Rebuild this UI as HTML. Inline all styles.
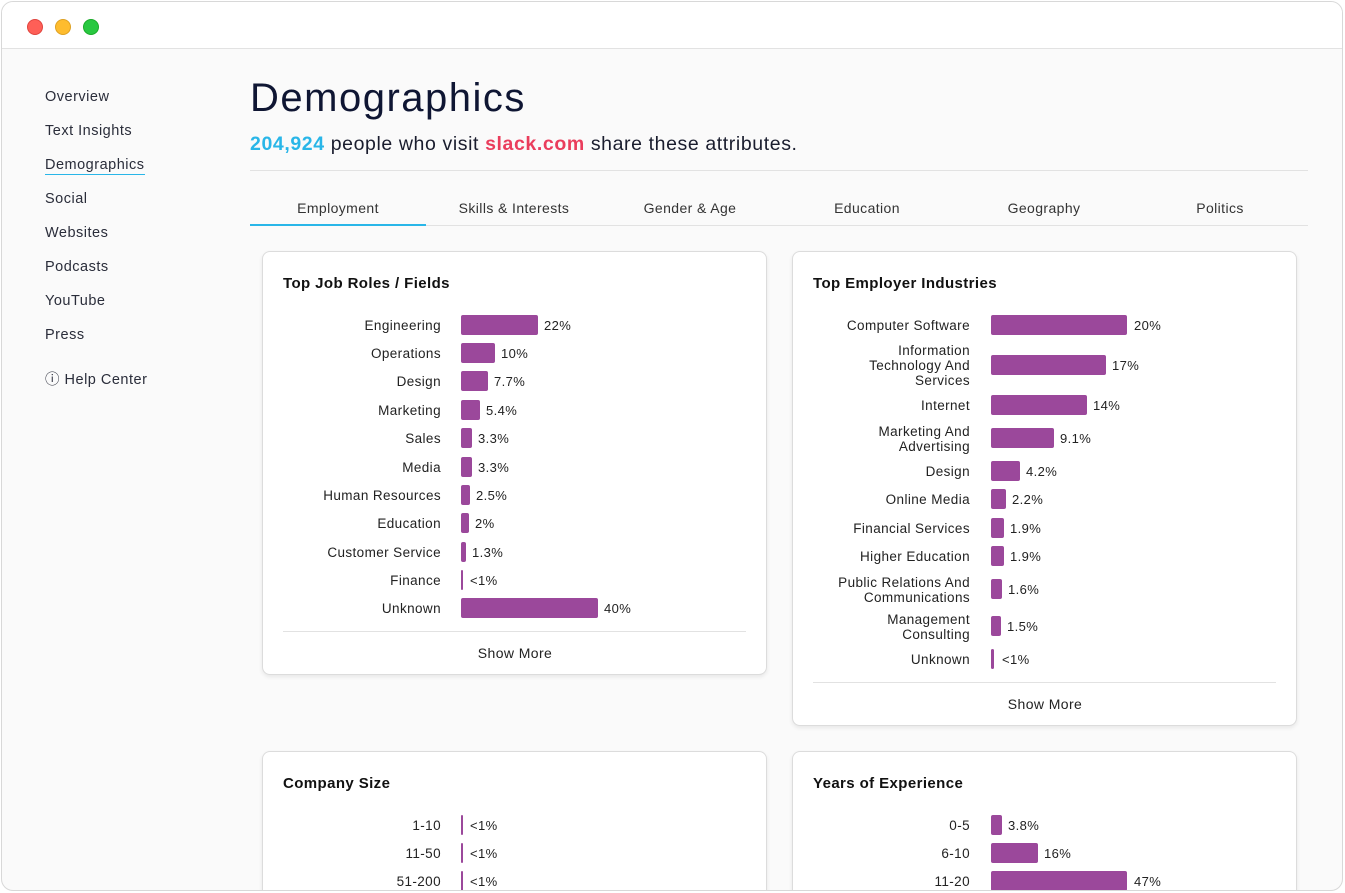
<!DOCTYPE html>
<html><head><meta charset="utf-8"><style>
*{margin:0;padding:0;box-sizing:border-box}
html,body{width:1345px;height:893px;overflow:hidden}
body{background:#fff;font-family:"Liberation Sans",sans-serif;position:relative;color:#1a1d2e;letter-spacing:.4px}
.win{position:absolute;left:1px;top:1px;width:1342px;height:890px;border:1px solid #d8d8d8;border-radius:12px;background:#fafafa;overflow:hidden}
.top{position:absolute;left:0;top:0;width:100%;height:47px;background:#fff;border-bottom:1px solid #e2e2e2}
.dot{position:absolute;top:17px;width:16px;height:16px;border-radius:50%}
.a{position:absolute;white-space:nowrap}
.nav{left:45px;font-size:14.5px;color:#2a2d3a;letter-spacing:.5px}
.clip{position:absolute;left:0;top:0;width:1345px;height:890px;overflow:hidden}
.card{position:absolute;background:#fff;border:1px solid #dcdcdc;border-radius:8px;box-shadow:0 2px 4px rgba(0,0,0,.08)}
.ct{position:absolute;left:20px;top:23px;font-size:15px;font-weight:bold;color:#111}
.lab{position:absolute;text-align:right;font-size:13.5px;line-height:15px;color:#222;width:190px}
.bar{position:absolute;height:20px;background:#9b489b;border-radius:2px}
.val{position:absolute;font-size:13px;color:#222}
.tab{position:absolute;top:200px;font-size:14px;color:#333;text-align:center;width:176px}
.sm{position:absolute;font-size:14px;color:#222;text-align:center;width:504px}
.hr{position:absolute;height:1px;background:#e2e2e2}
</style></head><body>
<div class="win">
<div class="top"><div class="dot" style="left:25px;background:#fe5f57;border:1px solid #e0443e"></div><div class="dot" style="left:53px;background:#febc2e;border:1px solid #dea123"></div><div class="dot" style="left:81px;background:#28c840;border:1px solid #1aab29"></div></div>
</div>
<div class="clip">
<div class="a nav" style="top:89px">Overview</div>
<div class="a nav" style="top:123px">Text Insights</div>
<div class="a nav" style="top:157px;border-bottom:1.5px solid #29b6e8;padding-bottom:1px">Demographics</div>
<div class="a nav" style="top:191px">Social</div>
<div class="a nav" style="top:225px">Websites</div>
<div class="a nav" style="top:259px">Podcasts</div>
<div class="a nav" style="top:293px">YouTube</div>
<div class="a nav" style="top:327px">Press</div>
<div class="a nav" style="top:368px">&#9432; Help Center</div>
<div class="a" style="left:250px;top:76px;font-size:40px;letter-spacing:1.5px;color:#0f1633">Demographics</div>
<div class="a" style="left:250px;top:133px;font-size:19.5px;letter-spacing:.6px;color:#1a1d2e"><b style="color:#29b6e8">204,924</b> people who visit <b style="color:#ea3d5c">slack.com</b> share these attributes.</div>
<div class="hr" style="left:250px;top:170px;width:1058px"></div>
<div class="tab" style="left:250px">Employment</div>
<div class="tab" style="left:426px">Skills &amp; Interests</div>
<div class="tab" style="left:602px">Gender &amp; Age</div>
<div class="tab" style="left:779px">Education</div>
<div class="tab" style="left:956px">Geography</div>
<div class="tab" style="left:1132px">Politics</div>
<div class="hr" style="left:250px;top:225px;width:1058px"></div>
<div class="a" style="left:250px;top:224px;width:176px;height:2px;background:#29b6e8"></div>

<div class="card" style="left:262px;top:251px;width:505px;height:424px"><div class="ct">Top Job Roles / Fields</div>
<div class="hr" style="left:20px;top:379px;width:463px"></div><div class="sm" style="top:393px">Show More</div></div>
<div class="card" style="left:792px;top:251px;width:505px;height:475px"><div class="ct">Top Employer Industries</div>
<div class="hr" style="left:20px;top:430px;width:463px"></div><div class="sm" style="top:444px">Show More</div></div>
<div class="card" style="left:262px;top:751px;width:505px;height:200px"><div class="ct">Company Size</div></div>
<div class="card" style="left:792px;top:751px;width:505px;height:200px"><div class="ct">Years of Experience</div></div>

<div class="lab" style="left:251px;top:318px">Engineering</div><div class="bar" style="left:461px;top:315px;width:77px"></div><div class="val" style="left:544px;top:318px">22%</div>
<div class="lab" style="left:251px;top:346px">Operations</div><div class="bar" style="left:461px;top:343px;width:34px"></div><div class="val" style="left:501px;top:346px">10%</div>
<div class="lab" style="left:251px;top:374px">Design</div><div class="bar" style="left:461px;top:371px;width:27px"></div><div class="val" style="left:494px;top:374px">7.7%</div>
<div class="lab" style="left:251px;top:403px">Marketing</div><div class="bar" style="left:461px;top:400px;width:19px"></div><div class="val" style="left:486px;top:403px">5.4%</div>
<div class="lab" style="left:251px;top:431px">Sales</div><div class="bar" style="left:461px;top:428px;width:11px"></div><div class="val" style="left:478px;top:431px">3.3%</div>
<div class="lab" style="left:251px;top:460px">Media</div><div class="bar" style="left:461px;top:457px;width:11px"></div><div class="val" style="left:478px;top:460px">3.3%</div>
<div class="lab" style="left:251px;top:488px">Human Resources</div><div class="bar" style="left:461px;top:485px;width:9px"></div><div class="val" style="left:476px;top:488px">2.5%</div>
<div class="lab" style="left:251px;top:516px">Education</div><div class="bar" style="left:461px;top:513px;width:8px"></div><div class="val" style="left:475px;top:516px">2%</div>
<div class="lab" style="left:251px;top:545px">Customer Service</div><div class="bar" style="left:461px;top:542px;width:5px"></div><div class="val" style="left:472px;top:545px">1.3%</div>
<div class="lab" style="left:251px;top:573px">Finance</div><div class="bar" style="left:461px;top:570px;width:2px"></div><div class="val" style="left:470px;top:573px">&lt;1%</div>
<div class="lab" style="left:251px;top:601px">Unknown</div><div class="bar" style="left:461px;top:598px;width:137px"></div><div class="val" style="left:604px;top:601px">40%</div>

<div class="lab" style="left:780px;top:318px">Computer Software</div><div class="bar" style="left:991px;top:315px;width:136px"></div><div class="val" style="left:1134px;top:318px">20%</div>
<div class="lab" style="left:780px;top:343px">Information<br>Technology And<br>Services</div><div class="bar" style="left:991px;top:355px;width:115px"></div><div class="val" style="left:1112px;top:358px">17%</div>
<div class="lab" style="left:780px;top:398px">Internet</div><div class="bar" style="left:991px;top:395px;width:96px"></div><div class="val" style="left:1093px;top:398px">14%</div>
<div class="lab" style="left:780px;top:424px">Marketing And<br>Advertising</div><div class="bar" style="left:991px;top:428px;width:63px"></div><div class="val" style="left:1060px;top:431px">9.1%</div>
<div class="lab" style="left:780px;top:464px">Design</div><div class="bar" style="left:991px;top:461px;width:29px"></div><div class="val" style="left:1026px;top:464px">4.2%</div>
<div class="lab" style="left:780px;top:492px">Online Media</div><div class="bar" style="left:991px;top:489px;width:15px"></div><div class="val" style="left:1012px;top:492px">2.2%</div>
<div class="lab" style="left:780px;top:521px">Financial Services</div><div class="bar" style="left:991px;top:518px;width:13px"></div><div class="val" style="left:1010px;top:521px">1.9%</div>
<div class="lab" style="left:780px;top:549px">Higher Education</div><div class="bar" style="left:991px;top:546px;width:13px"></div><div class="val" style="left:1010px;top:549px">1.9%</div>
<div class="lab" style="left:780px;top:575px">Public Relations And<br>Communications</div><div class="bar" style="left:991px;top:579px;width:11px"></div><div class="val" style="left:1008px;top:582px">1.6%</div>
<div class="lab" style="left:780px;top:612px">Management<br>Consulting</div><div class="bar" style="left:991px;top:616px;width:10px"></div><div class="val" style="left:1007px;top:619px">1.5%</div>
<div class="lab" style="left:780px;top:652px">Unknown</div><div class="bar" style="left:991px;top:649px;width:3px"></div><div class="val" style="left:1002px;top:652px">&lt;1%</div>

<div class="lab" style="left:251px;top:818px">1-10</div><div class="bar" style="left:461px;top:815px;width:2px"></div><div class="val" style="left:470px;top:818px">&lt;1%</div>
<div class="lab" style="left:251px;top:846px">11-50</div><div class="bar" style="left:461px;top:843px;width:2px"></div><div class="val" style="left:470px;top:846px">&lt;1%</div>
<div class="lab" style="left:251px;top:874px">51-200</div><div class="bar" style="left:461px;top:871px;width:2px"></div><div class="val" style="left:470px;top:874px">&lt;1%</div>
<div class="lab" style="left:780px;top:818px">0-5</div><div class="bar" style="left:991px;top:815px;width:11px"></div><div class="val" style="left:1008px;top:818px">3.8%</div>
<div class="lab" style="left:780px;top:846px">6-10</div><div class="bar" style="left:991px;top:843px;width:47px"></div><div class="val" style="left:1044px;top:846px">16%</div>
<div class="lab" style="left:780px;top:874px">11-20</div><div class="bar" style="left:991px;top:871px;width:136px"></div><div class="val" style="left:1134px;top:874px">47%</div>
</div>
</body></html>
